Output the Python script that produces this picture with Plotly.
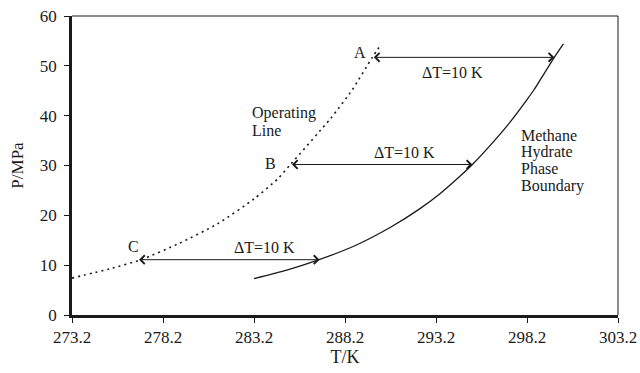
import plotly.graph_objects as go

# Methane hydrate phase boundary (T in K, P in MPa)
boundary_T = [283.2, 285.0, 286.7, 288.8, 290.7, 292.3, 293.4, 294.5, 295.2, 296.7, 297.4, 298.2, 298.6, 299.7, 300.2]
boundary_P = [7.3, 9.0, 11.0, 14.0, 17.6, 21.3, 24.3, 27.8, 30.2, 36.2, 39.3, 43.2, 45.3, 51.7, 54.4]

# Operating line
operating_T = [273.2, 275.3, 277.0, 279.1, 281.2, 283.2, 284.5, 285.2, 287.4, 288.6, 289.7, 290.2]
operating_P = [7.4, 9.3, 11.1, 14.4, 18.3, 23.3, 27.3, 30.2, 39.4, 45.2, 51.7, 54.4]

# Subcooling arrows: start on the operating line, span delta_T to the boundary
point_labels = ["A", "B", "C"]
arrow_T_start = [289.7, 285.2, 276.8]
arrow_P = [51.7, 30.2, 11.1]
delta_T = 10

x_ticks = [273.2, 278.2, 283.2, 288.2, 293.2, 298.2, 303.2]
y_ticks = [0, 10, 20, 30, 40, 50, 60]

FONT = "Liberation Serif, Times New Roman, serif"
INK = "#1a1a1a"

fig = go.Figure()

fig.add_trace(go.Scatter(
    x=boundary_T, y=boundary_P, mode="lines",
    line=dict(color=INK, width=1.3, shape="spline", smoothing=0.6),
    hoverinfo="skip", showlegend=False,
))
fig.add_trace(go.Scatter(
    x=operating_T, y=operating_P, mode="lines",
    line=dict(color=INK, width=1.6, dash="2px,4px", shape="spline", smoothing=0.6),
    hoverinfo="skip", showlegend=False,
))

annotations = []
for t0, p in zip(arrow_T_start, arrow_P):
    annotations.append(dict(
        x=t0 + delta_T, y=p, ax=t0, ay=p, xref="x", yref="y", axref="x", ayref="y",
        text="", showarrow=True, arrowside="end+start",
        arrowhead=4, startarrowhead=4, arrowsize=1.7, startarrowsize=1.7,
        arrowwidth=1, arrowcolor=INK, standoff=0, startstandoff=0,
    ))

# Point labels and delta-T captions
label_pos = {"A": (289.0, 52.7), "B": (284.13, 30.4), "C": (276.6, 13.75)}
for name in point_labels:
    lx, ly = label_pos[name]
    annotations.append(dict(x=lx, y=ly, text=name, showarrow=False,
                            font=dict(family=FONT, size=16, color=INK)))

for cx, cy in [(294.1, 48.7), (291.47, 32.6), (283.8, 13.5)]:
    annotations.append(dict(x=cx, y=cy, text=f"\u0394T={delta_T} K", showarrow=False,
                            font=dict(family=FONT, size=16, color=INK)))

for i, line in enumerate(["Operating", "Line"]):
    annotations.append(dict(x=282.98, y=40.6 - i * 3.5, text=line, showarrow=False,
                            xanchor="left", font=dict(family=FONT, size=16, color=INK)))

for i, line in enumerate(["Methane", "Hydrate", "Phase", "Boundary"]):
    annotations.append(dict(x=297.75, y=36.0 - i * 3.35, text=line, showarrow=False,
                            xanchor="left", font=dict(family=FONT, size=16, color=INK)))

fig.update_layout(
    width=640, height=373,
    margin=dict(l=72, r=22, t=16, b=58),
    paper_bgcolor="white", plot_bgcolor="white",
    font=dict(family=FONT, size=16, color=INK),
    annotations=annotations,
    shapes=[
        dict(type="line", xref="paper", yref="paper", x0=0, x1=1, y0=1, y1=1,
             line=dict(color=INK, width=1)),
        dict(type="line", xref="paper", yref="paper", x0=1, x1=1, y0=0, y1=1,
             line=dict(color=INK, width=1)),
    ],
    xaxis=dict(
        range=[273.2, 303.2], tickvals=x_ticks, ticktext=[f"{v:.1f}" for v in x_ticks],
        showgrid=False, zeroline=False, showline=True, linecolor=INK, linewidth=2.5,
        ticks="outside", ticklen=5, tickwidth=1.2, tickcolor=INK, automargin=False,
        tickfont=dict(family=FONT, size=17, color=INK),
        title=dict(text="T/K", font=dict(family=FONT, size=18, color=INK), standoff=4),
    ),
    yaxis=dict(
        range=[0, 60], tickvals=y_ticks, automargin=False, ticklabelstandoff=4,
        showgrid=False, zeroline=False, showline=True, linecolor=INK, linewidth=2.5,
        ticks="outside", ticklen=5, tickwidth=1.2, tickcolor=INK,
        tickfont=dict(family=FONT, size=17, color=INK),
        title=dict(text="P/MPa", font=dict(family=FONT, size=17, color=INK), standoff=12),
    ),
)

fig.write_html("out.html")
